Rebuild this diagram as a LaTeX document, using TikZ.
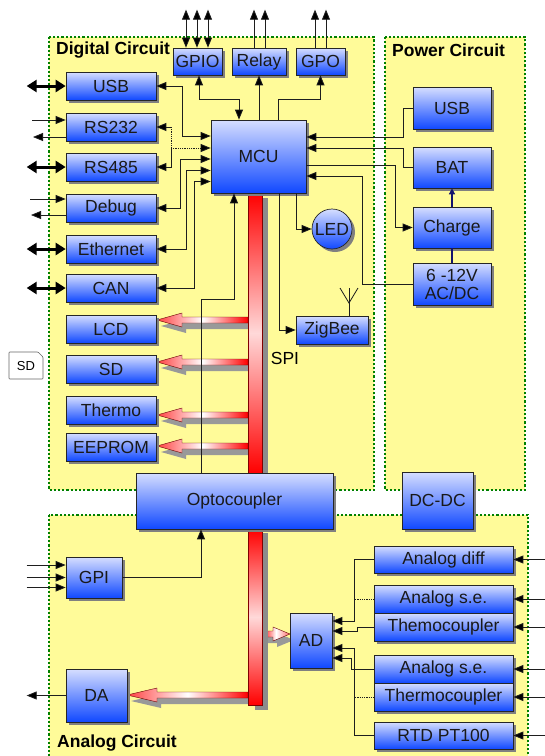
\documentclass[tikz,border=0pt]{standalone}
\usepackage{fontspec}
\setmainfont{Liberation Sans}
\usetikzlibrary{arrows.meta,shadows}
\definecolor{ybg}{RGB}{255,251,153}
\definecolor{gdash}{RGB}{0,128,0}
\definecolor{btop}{RGB}{214,222,255}
\definecolor{bbot}{RGB}{16,72,255}
\definecolor{navyln}{RGB}{20,20,110}
\definecolor{lnc}{RGB}{30,30,30}
\newcommand{\mkbox}[6]{\node[blk, minimum width={#4pt-#2pt}, minimum height={#5pt-#3pt}] (#1) at ({(#2+#4)/2},{(#3+#5)/2}) {#6};}
\newcommand{\fatarrow}[5]{%
  \fill[black!40, shift={(4,6)}] ({#2},{#3-3}) -- ({#1+#4},{#3-3}) -- ({#1+#4},{#3-7}) -- ({#1},{#3}) -- ({#1+#4},{#3+7}) -- ({#1+#4},{#3+3}) -- ({#2},{#3+3}) -- cycle;
  \shadedraw[#5, draw=red!40!black, line width=0.4pt] ({#2},{#3-3}) -- ({#1+#4},{#3-3}) -- ({#1+#4},{#3-7}) -- ({#1},{#3}) -- ({#1+#4},{#3+7}) -- ({#1+#4},{#3+3}) -- ({#2},{#3+3}) -- cycle;}
\begin{document}
\begin{tikzpicture}[x=1pt,y=-1pt,
  >={Triangle[length=10pt,width=8pt,fill=black]},
  blk/.style={draw=black!85, line width=0.7pt, top color=btop, bottom color=bbot, inner sep=0pt, align=center,
    font=\fontsize{17.5}{18}\selectfont, text=black!90,
    drop shadow={shadow xshift=3pt, shadow yshift=-3pt, fill=black!50, opacity=1}},
  region/.style={fill=ybg, draw=gdash, line width=1.4pt, dash pattern=on 2.2pt off 2pt},
  title/.style={font=\bfseries\fontsize{17.5}{19}\selectfont, anchor=west, inner sep=0pt},
  conn/.style={draw=lnc, line width=0.8pt},
  ar/.style={conn, ->},
  ar2/.style={conn, <->},
  fatdbl/.style={line width=3pt, {Triangle[length=10pt,width=12pt]}-{Triangle[length=10pt,width=12pt]}},
]
\useasboundingbox (0,0) rectangle (545,756);
\clip (0,0) rectangle (545,756);

% regions
\filldraw[region] (49,37) rectangle (374,490);
\filldraw[region] (385,37) rectangle (525,490);
\filldraw[region] (49,515) rectangle (528,790);
\node[title] (tD) at (56,50) {Digital Circuit};
\node[title] (tP) at (392,50) {Power Circuit};
\node[title] (tA) at (57,743) {Analog Circuit};

% SPI bus with fat arrows
\fatarrow{157}{248}{320}{25}{left color=red!75,right color=red,middle color=white}
\fatarrow{157}{248}{362}{25}{left color=red!75,right color=red,middle color=white}
\fatarrow{157}{248}{415}{25}{left color=red!75,right color=red,middle color=white}
\fatarrow{157}{248}{446}{25}{left color=red!75,right color=red,middle color=white}
\fatarrow{127}{248}{695}{30}{left color=red!75,right color=red,middle color=white}
\fatarrow{290}{262}{634}{-17}{left color=red,right color=red!60,middle color=white}
\fill[black!45] (255,198) rectangle (268,473);
\shadedraw[top color=red, bottom color=red, middle color=white!85!red, draw=red!50!black, line width=0.4pt] (248,193) rectangle (262,473);
\fill[black!45] (255,533) rectangle (268,710);
\shadedraw[top color=red, bottom color=red, middle color=white!85!red, draw=red!50!black, line width=0.4pt] (248,529) rectangle (262,705);
\node[font=\fontsize{17.5}{19}\selectfont] (spi) at (285,358) {SPI};

% boxes
\mkbox{GPIO}{173}{48}{222}{75}{GPIO}
\mkbox{Relay}{232}{48}{286}{75}{Relay}
\mkbox{GPO}{296}{48}{345}{75}{GPO}
\mkbox{USB}{66}{72}{156}{100}{USB}
\mkbox{RSa}{66}{113}{156}{141}{RS232}
\mkbox{RSb}{66}{153}{156}{181}{RS485}
\mkbox{Debug}{66}{194}{156}{222}{Debug}
\mkbox{Eth}{66}{235}{156}{263}{Ethernet}
\mkbox{CAN}{66}{274}{156}{302}{CAN}
\mkbox{LCD}{66}{315}{156}{343}{LCD}
\mkbox{SD}{66}{355}{156}{383}{SD}
\mkbox{Thermo}{66}{396}{156}{424}{Thermo}
\mkbox{EEPROM}{66}{433}{156}{461}{EEPROM}
\mkbox{MCU}{211}{120}{306}{193}{MCU}
\mkbox{ZigBee}{296}{316}{368}{344}{ZigBee}
\mkbox{PUSB}{413}{87}{491}{129}{USB}
\mkbox{BAT}{413}{147}{491}{188}{BAT}
\mkbox{Charge}{413}{207}{491}{248}{Charge}
\mkbox{ACDC}{413}{263}{491}{305}{6 -12V\\AC/DC}
\mkbox{Opto}{136}{473}{333}{529}{Optocoupler}
\mkbox{DCDC}{402}{472}{473}{529}{DC-DC}
\mkbox{GPI}{66}{557}{122}{598}{GPI}
\mkbox{DA}{66}{669}{127}{722}{DA}
\mkbox{AD}{290}{613}{332}{668}{AD}
\mkbox{Adiff}{374}{546}{513}{573}{Analog diff}
\mkbox{ASEa}{374}{585}{513}{613}{Analog s.e.}
\mkbox{Themo}{374}{613}{513}{641}{Themocoupler}
\mkbox{ASEb}{374}{655}{513}{683}{Analog s.e.}
\mkbox{Thermo2}{374}{683}{513}{711}{Thermocoupler}
\mkbox{RTD}{374}{722}{513}{749}{RTD PT100}
\node[blk, circle, minimum size=40pt] (LED) at (332,229) {LED};

% SD card
\draw[black!60, fill=white, line width=0.6pt, rounded corners=0.8pt] (9,352) -- (38,352) -- (43,357) -- (43,379) -- (9,379) -- cycle;
\node[font=\fontsize{13}{14}\selectfont] (sdl) at (26,366) {SD};

% top connectors
\foreach \xx in {186,197,208} \draw[ar2] (GPIO.north -| \xx,0) -- ++(0,-38);
\foreach \xx in {254,265} \draw[ar] (Relay.north -| \xx,0) -- ++(0,-38);
\foreach \xx in {315,326} \draw[ar] (GPO.north -| \xx,0) -- ++(0,-38);
\draw[ar2] (GPIO.south -| 199,0) |- (239,99) -- (MCU.north -| 239,0);
\draw[ar] (MCU.north -| Relay.south) -- (Relay.south);
\draw[ar] (MCU.north -| 278,0) |- (320.5,99) -- (GPO.south);

% left external
\draw[fatdbl] ([xshift=-39pt]USB.west) -- (USB.west);
\draw[ar] (32,120) -- (RSa.west |- 0,120);
\draw[ar] (RSa.west |- 0,137) -- (33,137);
\draw[fatdbl] ([xshift=-39pt]RSb.west) -- (RSb.west);
\draw[ar] (30,199) -- (Debug.west |- 0,199);
\draw[ar] (Debug.west |- 0,215) -- (31,215);
\draw[fatdbl] ([xshift=-39pt]Eth.west) -- (Eth.west);
\draw[fatdbl] ([xshift=-39pt]CAN.west) -- (CAN.west);

% MCU left side
\draw[ar2] (USB.east) -| (182,136) -- (MCU.west |- 0,136);
\coordinate (j1) at (171,148);
\draw[conn, <-] (RSa.east) -- (171,127);
\draw[conn, densely dotted] (171,127) -- (j1);
\draw[conn, densely dotted, ->] (j1) -- (MCU.west |- j1);
\draw[conn, ->] (j1) |- (RSb.east);
\draw[ar2] (Debug.east) -| (180,159) -- (MCU.west |- 0,159);
\draw[ar2] (Eth.east) -| (186,170.5) -- (MCU.west |- 0,170.5);
\draw[ar2] (CAN.east) -| (194,181.5) -- (MCU.west |- 0,181.5);
\draw[ar] (Opto.north -| 201,0) |- (234,299) -- (MCU.south -| 234,0);

% MCU right side / power
\draw[ar] (PUSB.west) -| (403,137) -- (MCU.east |- 0,137);
\draw[ar] (BAT.west) -| (403,148) -- (MCU.east |- 0,148);
\draw[ar] (MCU.east |- 0,165) -| (395,227.5) -- (Charge.west);
\draw[ar] (ACDC.west) -| (362,176) -- (MCU.east |- 0,176);
\draw[navyln, line width=2.5pt, -{Triangle[length=6pt,width=6pt]}] (Charge.north) -- (BAT.south);
\draw[navyln, line width=2.5pt] (Charge.south) -- (ACDC.north);

% LED, ZigBee
\draw[ar] (MCU.south -| 296,0) |- (LED.west);
\draw[ar] (MCU.south -| 279,0) |- (ZigBee.west);
\draw[conn] (ZigBee.north -| 349,0) -- (349,288);
\draw[conn] (340,288) -- (349,303) -- (358,288);

% analog
\draw[ar] (GPI.east) -| (Opto.south -| 201,0);
\foreach \dy in {12.5,0,-10} \draw[ar] ([xshift=-39pt,yshift=\dy pt]GPI.west) -- ([yshift=\dy pt]GPI.west);
\draw[ar] (DA.west) -- ++(-39,0);
\draw[ar] (Adiff.west) -| (354,621) -- (AD.east |- 0,621);
\draw[conn, densely dotted] (ASEa.west) -- (354,599);
\draw[ar] (Themo.west) -| (357,631) -- (AD.east |- 0,631);
\draw[ar] (ASEb.west) -| (351,658) -- (AD.east |- 0,658);
\draw[conn, densely dotted] (Thermo2.west) -- (354,697);
\draw[ar] (RTD.west) -| (354,648) -- (AD.east |- 0,648);
\foreach \n in {Adiff,ASEa,Themo,ASEb,Thermo2,RTD} \draw[ar] ([xshift=34pt]\n.east) -- (\n.east);
\end{tikzpicture}
\end{document}
